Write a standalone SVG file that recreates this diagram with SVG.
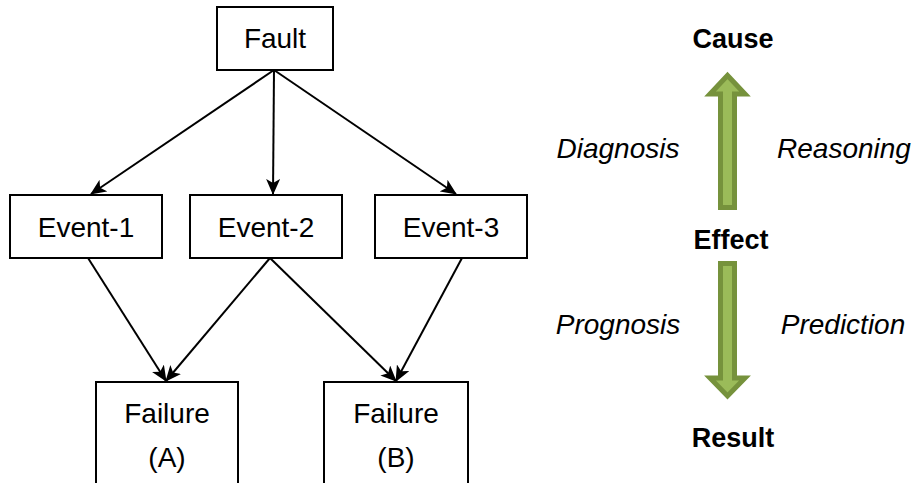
<svg xmlns="http://www.w3.org/2000/svg" width="915" height="483" viewBox="0 0 915 483">
  <style>
    .box { fill: #ffffff; stroke: #000000; stroke-width: 2; }
    .lbl { font-family: "Liberation Sans", Arial, sans-serif; font-size: 28px; fill: #000000; text-anchor: middle; }
    .head { font-family: "Liberation Sans", Arial, sans-serif; font-size: 27px; font-weight: bold; fill: #000000; text-anchor: middle; }
    .side { font-family: "Liberation Sans", Arial, sans-serif; font-size: 28px; font-style: italic; fill: #000000; text-anchor: middle; }
    .link { fill: none; stroke: #000000; stroke-width: 2; marker-end: url(#arr); }
    .block { fill: #9bbb59; stroke: #76923c; stroke-width: 5; stroke-linejoin: miter; }
  </style>
  <defs>
    <marker id="arr" viewBox="0 0 16 14" refX="15" refY="7" markerWidth="16" markerHeight="14" markerUnits="userSpaceOnUse" orient="auto">
      <path d="M0,0 L16,7 L0,14 L4,7 Z" fill="#000000"/>
    </marker>
  </defs>

  <!-- connectors -->
  <g id="connectors">
    <line class="link" x1="274" y1="70" x2="91" y2="194"/>
    <line class="link" x1="274" y1="70" x2="273" y2="194"/>
    <line class="link" x1="274" y1="70" x2="456" y2="194"/>
    <line class="link" x1="88" y1="258" x2="166" y2="381"/>
    <line class="link" x1="270" y1="258" x2="166" y2="381"/>
    <line class="link" x1="270" y1="258" x2="396" y2="381"/>
    <line class="link" x1="462" y1="258" x2="396" y2="381"/>
  </g>

  <!-- nodes -->
  <g id="fault">
    <rect class="box" x="217" y="7" width="116" height="63"/>
    <text class="lbl" x="275" y="48">Fault</text>
  </g>
  <g id="event1">
    <rect class="box" x="10" y="195" width="152" height="63"/>
    <text class="lbl" x="86" y="237">Event-1</text>
  </g>
  <g id="event2">
    <rect class="box" x="190" y="195" width="152" height="63"/>
    <text class="lbl" x="266" y="237">Event-2</text>
  </g>
  <g id="event3">
    <rect class="box" x="375" y="195" width="152" height="63"/>
    <text class="lbl" x="451" y="237">Event-3</text>
  </g>
  <g id="failureA">
    <rect class="box" x="96" y="382" width="142" height="110"/>
    <text class="lbl" x="167" y="423">Failure</text>
    <text class="lbl" x="167" y="467">(A)</text>
  </g>
  <g id="failureB">
    <rect class="box" x="324" y="382" width="144" height="110"/>
    <text class="lbl" x="396" y="423">Failure</text>
    <text class="lbl" x="396" y="467">(B)</text>
  </g>

  <!-- cause / effect / result scale -->
  <g id="scale">
    <text class="head" x="733" y="48">Cause</text>
    <path class="block" d="M720.5,207.5 L720.5,94 L710,94 L727.5,75.5 L745,94 L734.5,94 L734.5,207.5 Z"/>
    <text class="side" x="618" y="158">Diagnosis</text>
    <text class="side" x="844" y="158">Reasoning</text>
    <text class="head" x="731" y="249">Effect</text>
    <path class="block" d="M720.5,263.5 L720.5,378 L710,378 L727.5,396 L745,378 L734.5,378 L734.5,263.5 Z"/>
    <text class="side" x="618" y="334">Prognosis</text>
    <text class="side" x="843" y="334">Prediction</text>
    <text class="head" x="733" y="447">Result</text>
  </g>
</svg>
